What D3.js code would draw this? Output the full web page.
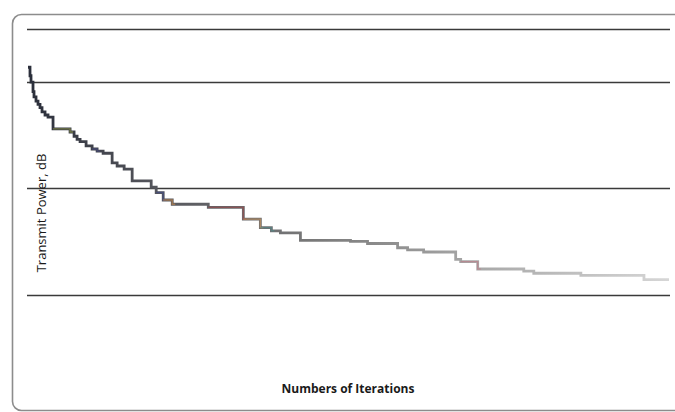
<!DOCTYPE html>
<html>
<head>
<meta charset="utf-8">
<script src="https://cdn.jsdelivr.net/npm/d3@7"></script>
<style>
  body { margin: 0; background: #fff; overflow: hidden; }
  svg { display: block; }
</style>
</head>
<body>
<div id="chart"></div>
<script>
(function() {
    'use strict';

    // iteration where each level starts (step after)
    const iterations = [0, 2, 3, 5, 6, 8, 10, 12, 14, 17, 20, 25, 42, 46, 49, 52, 58, 64, 69, 75,
                        84, 89, 96, 104, 123, 128, 135, 144, 180, 215, 232, 243, 252, 272, 322,
                        339, 369, 379, 395, 427, 432, 449, 495, 505, 552, 615, 640];
    // transmit power level, dB
    const power = [31.4, 30.6, 30.0, 29.1, 28.6, 28.2, 27.9, 27.6, 27.2, 26.9, 26.7, 25.6, 25.3, 24.9, 24.6,
                   24.4, 24.0, 23.7, 23.5, 23.3, 22.4, 22.1, 21.8, 20.7, 20.1, 19.6, 18.9, 18.5,
                   18.2, 17.1, 16.3, 16.0, 15.8, 15.1, 15.0, 14.8, 14.4, 14.2, 14.0, 13.3, 13.1,
                   12.4, 12.2, 12.0, 11.8, 11.4, 11.4];
    const gridValues = [10, 20, 30];

    const width = 675;
    const height = 412;

    const marginTop = 29;
    const marginRight = 6;
    const marginBottom = 117;
    const marginLeft = 28;

    const svg = d3.select("#chart")
        .append("svg")
        .attr("width", width)
        .attr("height", height);

    // outer frame (rounded, runs off the right edge)
    svg.append("rect")
        .attr("x", 12.5)
        .attr("y", 14.5)
        .attr("width", 690)
        .attr("height", 396)
        .attr("rx", 9)
        .attr("fill", "none")
        .attr("stroke", "#8c8c8c")
        .attr("stroke-width", 1.6);

    // X SCALE
    const x = d3.scaleLinear()
        .domain([0, 640])
        .range([marginLeft, width - marginRight]);

    // Y SCALE
    const y = d3.scaleLinear()
        .domain([10, 35])
        .range([height - marginBottom - 0.5, marginTop]);

    // GRID LINES
    svg.append("g")
        .selectAll("line")
        .data(gridValues.concat([y.domain()[1]]))
        .join("line")
        .attr("x1", x(0) - 1)
        .attr("x2", x(640) + 1)
        .attr("y1", d => Math.round(y(d)) + 0.5)
        .attr("y2", d => Math.round(y(d)) + 0.5)
        .attr("stroke", "#3a3a3a")
        .attr("stroke-width", 1.5);

    // LINE
    const data = iterations.map((it, i) => ({ it: it, p: power[i] }));

    const defs = svg.append("defs");
    const grad = defs.append("linearGradient")
        .attr("id", "fade")
        .attr("gradientUnits", "userSpaceOnUse")
        .attr("x1", x(0)).attr("x2", x(640))
        .attr("y1", 0).attr("y2", 0);
    grad.append("stop").attr("offset", "0%").attr("stop-color", "#2a2e3a");
    grad.append("stop").attr("offset", "20%").attr("stop-color", "#55565c");
    grad.append("stop").attr("offset", "45%").attr("stop-color", "#7a7a7a");
    grad.append("stop").attr("offset", "70%").attr("stop-color", "#a8a8a8");
    grad.append("stop").attr("offset", "100%").attr("stop-color", "#d6d6d6");

    const line = d3.line()
        .x(d => x(d.it))
        .y(d => y(d.p))
        .curve(d3.curveStepAfter);

    svg.append("path")
        .datum(data)
        .attr("fill", "none")
        .attr("stroke", "url(#fade)")
        .attr("stroke-width", 2.8)
        .attr("d", line);

    // small coloured bits where other runs peek out
    const accents = { 12: "#9aa24a", 18: "#4a4f8a", 26: "#3f4a8a", 27: "#c98a4a",
                      29: "#a04848", 30: "#d69a5a", 31: "#4f8a8a", 41: "#c07a86" };
    svg.append("g")
        .selectAll("path")
        .data(Object.keys(accents).map(Number))
        .join("path")
        .attr("fill", "none")
        .attr("stroke", i => accents[i])
        .attr("stroke-width", 1.4)
        .attr("opacity", 0.6)
        .attr("d", i => line([data[i - 1], data[i], { it: data[i].it + 3, p: data[i].p }]));

    // AXIS TITLES
    svg.append("text")
        .attr("transform", `translate(46, 213) rotate(-90)`)
        .attr("text-anchor", "middle")
        .attr("font-family", "Open Sans, sans-serif")
        .attr("font-size", "13px")
        .attr("fill", "#1a1a1a")
        .text("Transmit Power, dB");

    svg.append("text")
        .attr("x", 348)
        .attr("y", 393)
        .attr("text-anchor", "middle")
        .attr("font-family", "Open Sans, sans-serif")
        .attr("font-size", "12px")
        .attr("font-weight", "bold")
        .attr("fill", "#1a1a1a")
        .text("Numbers of Iterations");
})();
</script>
</body>
</html>
